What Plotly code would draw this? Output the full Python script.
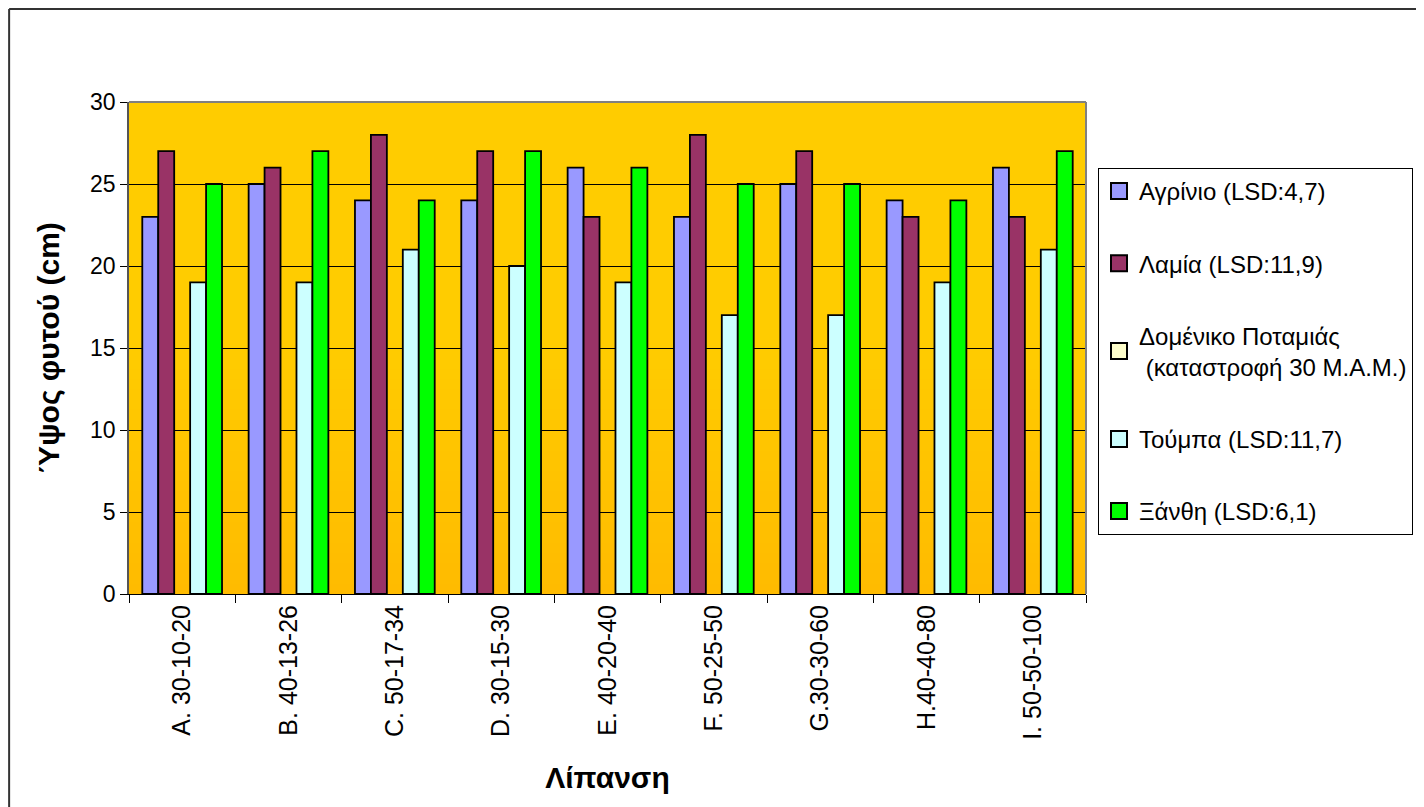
import plotly.graph_objects as go

categories = ["A. 30-10-20", "B. 40-13-26", "C. 50-17-34", "D. 30-15-30", "E. 40-20-40",
              "F. 50-25-50", "G.30-30-60", "H.40-40-80", "I. 50-50-100"]
agrinio = [23, 25, 24, 24, 26, 23, 25, 24, 26]
lamia = [27, 26, 28, 27, 23, 28, 27, 23, 23]
domeniko = [None] * 9
toumpa = [19, 19, 21, 20, 19, 17, 17, 19, 21]
xanthi = [25, 27, 24, 27, 26, 25, 25, 24, 27]

series = [
    ("Αγρίνιο (LSD:4,7)", agrinio, "#9999FF"),
    ("Λαμία (LSD:11,9)", lamia, "#993366"),
    ("Δομένικο Ποταμιάς<br> (καταστροφή 30 Μ.Α.Μ.)", domeniko, "#FFFFCC"),
    ("Τούμπα (LSD:11,7)", toumpa, "#CCFFFF"),
    ("Ξάνθη (LSD:6,1)", xanthi, "#00FF00"),
]

FONT = "Liberation Sans, Arial, sans-serif"

# figure is placed by the page at an 8px offset; layout in figure pixels
W, H = 1416, 799
L, R, T, B = 121, 1079, 94, 586
PW, PH = R - L, B - T

fig = go.Figure()
for i, (name, vals, col) in enumerate(series):
    fig.add_trace(go.Bar(
        x=categories, y=vals, name=name, showlegend=False,
        marker=dict(color=col, line=dict(color="black", width=1.8)),
    ))
# legend-only entries with larger square symbols
for i, (name, vals, col) in enumerate(series):
    fig.add_trace(go.Scatter(
        x=[None], y=[None], mode="markers", name=name, legendgroup=f"g{i}",
        marker=dict(symbol="square", size=16, color=col, line=dict(color="black", width=2)),
        hoverinfo="skip",
    ))

# gradient background strips for plot area
shapes = []
n = 24
for k in range(n):
    y0 = k / n * 0.5
    y1 = (k + 1) / n * 0.5 + 0.002
    t = 1 - k / n
    g = int(round(0xCC - (0xCC - 0xBB) * t))
    shapes.append(dict(type="rect", xref="paper", yref="paper", x0=0, x1=1, y0=y0, y1=y1,
                       fillcolor=f"rgb(255,{g},0)", line=dict(width=0), layer="below"))
shapes.append(dict(type="rect", xref="paper", yref="paper", x0=0, x1=1, y0=0.5, y1=1,
                   fillcolor="#FFCC00", line=dict(width=0), layer="below"))
# plot area top/right border
shapes.append(dict(type="line", xref="paper", yref="paper", x0=0, x1=1, y0=1, y1=1,
                   line=dict(color="#808080", width=2)))
shapes.append(dict(type="line", xref="paper", yref="paper", x0=1, x1=1, y0=0, y1=1,
                   line=dict(color="#808080", width=2)))
# outer chart frame (top and left edges)
fx = (1 - L) / PW
fy = (B - 1) / PH
shapes.append(dict(type="line", xref="paper", yref="paper", x0=fx, x1=1.5, y0=fy, y1=fy,
                   line=dict(color="#333333", width=2)))
shapes.append(dict(type="line", xref="paper", yref="paper", x0=fx, x1=fx, y0=-1, y1=fy,
                   line=dict(color="#333333", width=2)))

fig.update_layout(
    width=W, height=H,
    margin=dict(l=L, r=W - R, t=T, b=H - B),
    paper_bgcolor="white",
    plot_bgcolor="#FFCC00",
    barmode="group", bargap=0.25, bargroupgap=0,
    font=dict(family=FONT, size=23, color="black"),
    shapes=shapes,
    showlegend=True,
    legend=dict(
        x=(1090 - L) / PW, xanchor="left",
        y=(B - 160) / PH, yanchor="top",
        bordercolor="black", borderwidth=1, bgcolor="white",
        font=dict(family=FONT, size=24, color="black"),
        tracegroupgap=38, traceorder="grouped",
        itemwidth=30,
    ),
    xaxis=dict(
        type="category", tickangle=-90, tickson="boundaries",
        ticks="outside", ticklen=8, tickcolor="black",
        showline=True, linecolor="black", linewidth=1,
        showgrid=False,
        tickfont=dict(family=FONT, size=25),
        title=dict(text="<b>Λίπανση</b>", font=dict(family=FONT, size=30), standoff=28),
    ),
    yaxis=dict(
        range=[0, 30], dtick=5, tick0=0,
        ticks="outside", ticklen=7, tickcolor="black",
        showline=True, linecolor="#555555", linewidth=1.5,
        showgrid=True, gridcolor="black", gridwidth=1,
        zeroline=False,
        tickfont=dict(family=FONT, size=23),
        title=dict(text="<b>Ύψος φυτού (cm)</b>", font=dict(family=FONT, size=30), standoff=22),
    ),
)

fig.write_html("out.html")
